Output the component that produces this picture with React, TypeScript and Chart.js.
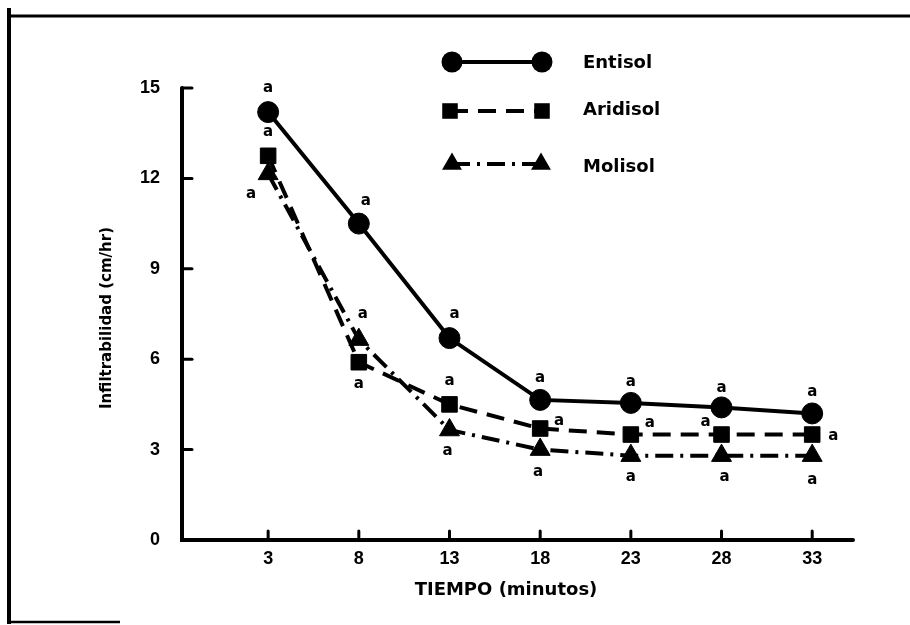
import React, { useEffect, useRef } from "react";
import { Chart, registerables } from "chart.js";

Chart.register(...registerables);

// ---- data ----
const TIEMPO = [3, 8, 13, 18, 23, 28, 33];
const ENTISOL = [14.2, 10.5, 6.7, 4.65, 4.55, 4.4, 4.2];
const ARIDISOL = [12.75, 5.9, 4.5, 3.7, 3.5, 3.5, 3.5];
const MOLISOL = [12.15, 6.65, 3.65, 3.0, 2.8, 2.8, 2.8];
const Y_TICKS = [0, 3, 6, 9, 12, 15];
const SERIES_NAMES = ["Entisol", "Aridisol", "Molisol"];
const LETTERS_ENTISOL = ["a", "a", "a", "a", "a", "a", "a"];
const LETTERS_ARIDISOL = ["a", "a", "a", "a", "a", "a", "a"];
const LETTERS_MOLISOL = ["a", "a", "a", "a", "a", "a", "a"];
const X_TITLE = "TIEMPO (minutos)";
const Y_TITLE = "Infiltrabilidad (cm/hr)";

// ---- layout of the significance letters (pixel offsets from each point) ----
const OFF_ENTISOL: [number, number][] = [[0, -24], [7, -22], [5, -24], [0, -22], [0, -21], [0, -19], [0, -21]];
const OFF_ARIDISOL: [number, number][] = [[0, -24], [0, 22], [0, -23], [19, -7], [19, -11], [-16, -12], [21, 2]];
const OFF_MOLISOL: [number, number][] = [[-17, 20], [4, -26], [-2, 21], [-2, 23], [0, 21], [3, 21], [0, 24]];

const BOLD = "bold";
const TICK_FONT = { family: "'Liberation Sans', Arial, sans-serif", weight: BOLD as any, size: 18 };

function drawMarker(ctx: CanvasRenderingContext2D, style: string, x: number, y: number, r: number) {
  ctx.beginPath();
  if (style === "circle") {
    ctx.arc(x, y, r, 0, Math.PI * 2);
  } else if (style === "rect") {
    const s = Math.SQRT1_2 * r;
    ctx.rect(x - s, y - s, 2 * s, 2 * s);
  } else {
    let rad = 0;
    ctx.moveTo(x + Math.sin(rad) * r, y - Math.cos(rad) * r);
    rad += (2 * Math.PI) / 3;
    ctx.lineTo(x + Math.sin(rad) * r, y - Math.cos(rad) * r);
    rad += (2 * Math.PI) / 3;
    ctx.lineTo(x + Math.sin(rad) * r, y - Math.cos(rad) * r);
    ctx.closePath();
  }
  ctx.fill();
}

const decor = {
  id: "decor",
  afterDraw(chart: any) {
    const ctx: CanvasRenderingContext2D = chart.ctx;
    const xS = chart.scales.x;
    const yS = chart.scales.y;
    const area = chart.chartArea;
    ctx.save();
    ctx.strokeStyle = "#000";
    ctx.fillStyle = "#000";

    // frame
    ctx.lineCap = "butt";
    ctx.lineWidth = 3;
    ctx.beginPath();
    ctx.moveTo(7, 16);
    ctx.lineTo(910, 16);
    ctx.stroke();
    ctx.lineWidth = 4;
    ctx.beginPath();
    ctx.moveTo(9, 8);
    ctx.lineTo(9, 624);
    ctx.stroke();
    ctx.lineWidth = 2.5;
    ctx.beginPath();
    ctx.moveTo(9, 622);
    ctx.lineTo(120, 622);
    ctx.stroke();

    // axes
    const x0 = area.left;
    const y0 = yS.getPixelForValue(0);
    const yTop = yS.getPixelForValue(Y_TICKS[Y_TICKS.length - 1]);
    ctx.lineCap = "round";
    ctx.lineWidth = 4;
    ctx.beginPath();
    ctx.moveTo(x0, yTop);
    ctx.lineTo(x0, y0);
    ctx.lineTo(area.right, y0);
    ctx.stroke();
    ctx.lineWidth = 3;
    Y_TICKS.forEach((v) => {
      if (v === 0) return;
      const py = yS.getPixelForValue(v);
      ctx.beginPath();
      ctx.moveTo(x0, py);
      ctx.lineTo(x0 + 10, py);
      ctx.stroke();
    });
    TIEMPO.forEach((t) => {
      const px = xS.getPixelForValue(t);
      ctx.beginPath();
      ctx.moveTo(px, y0);
      ctx.lineTo(px, y0 - 9);
      ctx.stroke();
    });

    // axis titles
    ctx.textAlign = "center";
    ctx.textBaseline = "middle";
    ctx.font = "bold 18px 'DejaVu Sans'";
    ctx.fillText(X_TITLE, 506, 590);
    ctx.save();
    ctx.translate(107, 318);
    ctx.rotate(-Math.PI / 2);
    ctx.font = "bold 15px 'DejaVu Sans'";
    ctx.fillText(Y_TITLE, 0, 0);
    ctx.restore();

    // legend
    const legend = [
      { name: SERIES_NAMES[0], style: "circle", r: 10.5, dash: [], y: 62, x1: 452, x2: 542, ty: 63 },
      { name: SERIES_NAMES[1], style: "rect", r: 11, dash: [18, 10], y: 111, x1: 450, x2: 542, ty: 110 },
      { name: SERIES_NAMES[2], style: "triangle", r: 11.5, dash: [18, 7, 3, 7], y: 164, x1: 452, x2: 541, ty: 167 },
    ];
    legend.forEach((l) => {
      ctx.lineCap = "butt";
      ctx.lineWidth = 4;
      ctx.setLineDash(l.dash);
      ctx.beginPath();
      ctx.moveTo(l.x1, l.y);
      ctx.lineTo(l.x2, l.y);
      ctx.stroke();
      ctx.setLineDash([]);
      drawMarker(ctx, l.style, l.x1, l.y, l.r);
      drawMarker(ctx, l.style, l.x2, l.y, l.r);
      ctx.textAlign = "left";
      ctx.font = "bold 18px 'DejaVu Sans'";
      ctx.fillText(l.name, 583, l.ty);
    });

    // significance letters
    ctx.textAlign = "center";
    ctx.textBaseline = "middle";
    ctx.font = "bold 15px 'DejaVu Sans'";
    const groups: [number[], string[], [number, number][]][] = [
      [ENTISOL, LETTERS_ENTISOL, OFF_ENTISOL],
      [ARIDISOL, LETTERS_ARIDISOL, OFF_ARIDISOL],
      [MOLISOL, LETTERS_MOLISOL, OFF_MOLISOL],
    ];
    groups.forEach(([vals, letters, offs]) => {
      vals.forEach((v, i) => {
        const px = xS.getPixelForValue(TIEMPO[i]);
        const py = yS.getPixelForValue(v);
        ctx.fillText(letters[i], px + offs[i][0], py + offs[i][1]);
      });
    });
    ctx.restore();
  },
};

export default function App() {
  const ref = useRef<HTMLCanvasElement>(null);
  useEffect(() => {
    const canvas = ref.current;
    if (!canvas) return;
    const pts = (vals: number[]) => TIEMPO.map((t, i) => ({ x: t, y: vals[i] }));
    const common = {
      borderColor: "#000",
      backgroundColor: "#000",
      pointBackgroundColor: "#000",
      pointBorderColor: "#000",
      pointBorderWidth: 1,
      borderWidth: 4,
      tension: 0,
      fill: false,
    };
    const chart = new Chart(canvas, {
      type: "line",
      data: {
        datasets: [
          { ...common, label: SERIES_NAMES[0], data: pts(ENTISOL), pointStyle: "circle", pointRadius: 10.5 },
          { ...common, label: SERIES_NAMES[1], data: pts(ARIDISOL), pointStyle: "rect", pointRadius: 11, borderDash: [18, 10] },
          { ...common, label: SERIES_NAMES[2], data: pts(MOLISOL), pointStyle: "triangle", pointRadius: 11.5, borderDash: [18, 7, 3, 7] },
        ] as any,
      },
      options: {
        responsive: false,
        animation: false,
        devicePixelRatio: 1,
        events: [],
        layout: { padding: { top: 88, right: 57, left: 0, bottom: 0 } },
        plugins: { legend: { display: false }, tooltip: { enabled: false } },
        scales: {
          x: {
            type: "linear",
            min: -1.75,
            max: 35.25,
            afterBuildTicks: (s: any) => {
              s.ticks = TIEMPO.map((v) => ({ value: v }));
            },
            afterFit: (s: any) => {
              s.height = 85;
            },
            grid: { display: false, drawTicks: false },
            border: { display: false },
            ticks: { font: TICK_FONT, color: "#000", padding: 8, autoSkip: false, maxRotation: 0, callback: (v: any) => String(v) },
          },
          y: {
            type: "linear",
            min: 0,
            max: 15,
            afterBuildTicks: (s: any) => {
              s.ticks = Y_TICKS.map((v) => ({ value: v }));
            },
            afterFit: (s: any) => {
              s.width = 182;
            },
            grid: { display: false, drawTicks: false },
            border: { display: false },
            ticks: { font: TICK_FONT, color: "#000", padding: 22, callback: (v: any) => String(v) },
          },
        },
      } as any,
      plugins: [decor],
    });
    return () => chart.destroy();
  }, []);
  return (
    <div style={{ position: "absolute", left: 0, top: 0, width: 910, height: 625, background: "#fff" }}>
      <canvas ref={ref} width={910} height={625} style={{ display: "block" }} />
    </div>
  );
}
